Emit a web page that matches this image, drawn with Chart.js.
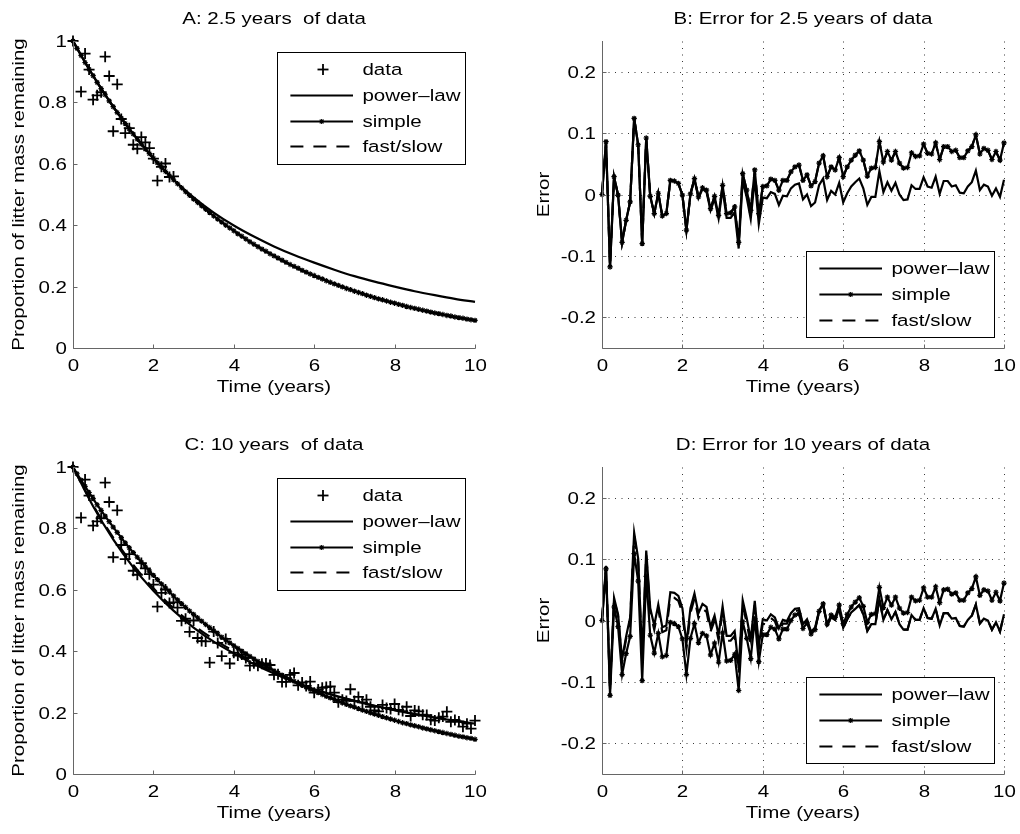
<!DOCTYPE html>
<html>
<head>
<meta charset="utf-8">
<script src="https://cdn.jsdelivr.net/npm/chart.js@4.4.1/dist/chart.umd.min.js"></script>
<style>
html,body{margin:0;padding:0;background:#fff;width:1020px;height:834px;overflow:hidden;position:relative}
canvas{position:absolute}
#cA{left:0;top:0}#cB{left:529px;top:0}#cC{left:0;top:426px}#cD{left:529px;top:426px}
</style>
</head>
<body>
<canvas id="cA" width="500" height="408"></canvas>
<canvas id="cB" width="500" height="408"></canvas>
<canvas id="cC" width="500" height="408"></canvas>
<canvas id="cD" width="500" height="408"></canvas>
<script>
// ---------------- data ----------------
const time = [0,0.1,0.2,0.3,0.4,0.5,0.6,0.7,0.8,0.9,1,1.1,1.2,1.3,1.4,1.5,1.6,1.7,1.8,1.9,2,2.1,2.2,2.3,2.4,2.5,2.6,2.7,2.8,2.9,3,3.1,3.2,3.3,3.4,3.5,3.6,3.7,3.8,3.9,4,4.1,4.2,4.3,4.4,4.5,4.6,4.7,4.8,4.9,5,5.1,5.2,5.3,5.4,5.5,5.6,5.7,5.8,5.9,6,6.1,6.2,6.3,6.4,6.5,6.6,6.7,6.8,6.9,7,7.1,7.2,7.3,7.4,7.5,7.6,7.7,7.8,7.9,8,8.1,8.2,8.3,8.4,8.5,8.6,8.7,8.8,8.9,9,9.1,9.2,9.3,9.4,9.5,9.6,9.7,9.8,9.9,10];
const tFit = [0,0.5,1,1.5,2,2.5,3,3.5,4,4.5,5,5.5,6,6.5,7,7.5,8,8.5,9,9.5,10];

const dataMass = [1.000,1.062,0.835,0.959,0.907,0.809,0.823,0.833,0.949,0.886,
 0.706,0.859,0.746,0.700,0.716,0.662,0.649,0.687,0.670,0.651,
 0.617,0.545,0.590,0.601,0.557,0.559,0.542,0.499,0.506,0.463,
 0.500,0.443,0.433,0.432,0.363,0.464,0.427,0.384,0.440,0.360,
 0.395,0.386,0.389,0.378,0.353,0.361,0.353,0.359,0.360,0.355,
 0.323,0.325,0.300,0.300,0.323,0.329,0.289,0.298,0.287,0.301,
 0.265,0.275,0.281,0.283,0.285,0.265,0.234,0.242,0.238,0.276,
 0.238,0.251,0.233,0.242,0.219,0.207,0.204,0.225,0.215,0.212,
 0.228,0.209,0.205,0.219,0.189,0.207,0.204,0.193,0.192,0.177,
 0.174,0.183,0.187,0.203,0.170,0.176,0.171,0.154,0.164,0.148,
 0.174];

const fitA_simple = [1.000,0.976,0.953,0.930,0.908,0.887,0.865,0.845,0.825,0.805,
 0.786,0.767,0.749,0.731,0.714,0.697,0.680,0.664,0.648,0.633,
 0.618,0.603,0.589,0.575,0.561,0.548,0.535,0.522,0.509,0.497,
 0.485,0.474,0.463,0.452,0.441,0.430,0.420,0.410,0.400,0.391,
 0.382,0.372,0.364,0.355,0.346,0.338,0.330,0.322,0.315,0.307,
 0.300,0.293,0.286,0.279,0.272,0.266,0.260,0.253,0.247,0.241,
 0.236,0.230,0.225,0.219,0.214,0.209,0.204,0.199,0.194,0.190,
 0.185,0.181,0.177,0.172,0.168,0.164,0.160,0.157,0.153,0.149,
 0.146,0.142,0.139,0.135,0.132,0.129,0.126,0.123,0.120,0.117,
 0.114,0.112,0.109,0.106,0.104,0.101,0.099,0.097,0.094,0.092,
 0.090];
const fitA_power = [1,0.887,0.786,0.697,0.618,0.549,0.491,0.441,0.399,0.363,0.331,0.303,0.278,0.255,0.234,0.216,0.200,0.185,0.172,0.160,0.150];
const fitA_fastslow = [1,0.887,0.786,0.697,0.618,0.548,0.485,0.430,0.382,0.338,0.300,0.266,0.236,0.209,0.185,0.164,0.146,0.129,0.114,0.101,0.090];

const fitC_simple = [1.000,0.978,0.957,0.937,0.917,0.897,0.877,0.859,0.840,0.822,
 0.804,0.787,0.770,0.753,0.737,0.721,0.706,0.690,0.675,0.661,
 0.647,0.633,0.619,0.606,0.593,0.580,0.567,0.555,0.543,0.531,
 0.520,0.509,0.498,0.487,0.477,0.466,0.456,0.446,0.437,0.427,
 0.418,0.409,0.400,0.392,0.383,0.375,0.367,0.359,0.351,0.344,
 0.336,0.329,0.322,0.315,0.308,0.302,0.295,0.289,0.283,0.276,
 0.270,0.265,0.259,0.253,0.248,0.243,0.237,0.232,0.227,0.222,
 0.218,0.213,0.208,0.204,0.199,0.195,0.191,0.187,0.183,0.179,
 0.175,0.171,0.167,0.164,0.160,0.157,0.154,0.150,0.147,0.144,
 0.141,0.138,0.135,0.132,0.129,0.126,0.123,0.121,0.118,0.116,
 0.113];
const fitC_power = [1,0.872,0.764,0.673,0.597,0.532,0.477,0.431,0.393,0.358,0.327,0.300,0.276,0.256,0.238,0.222,0.208,0.195,0.184,0.173,0.164];
const fitC_fastslow = [1,0.876,0.770,0.681,0.605,0.540,0.485,0.439,0.400,0.364,0.330,0.301,0.276,0.256,0.238,0.222,0.208,0.195,0.184,0.173,0.164];

const errB_simple = [0.000,0.086,-0.118,0.029,-0.001,-0.078,-0.042,-0.012,0.124,0.081,
 -0.080,0.092,-0.003,-0.031,0.002,-0.035,-0.031,0.023,0.022,0.018,
 -0.001,-0.058,0.001,0.026,-0.004,0.011,0.007,-0.023,-0.003,-0.034,
 0.015,-0.031,-0.030,-0.020,-0.078,0.034,0.007,-0.026,0.040,-0.031,
 0.013,0.014,0.025,0.023,0.007,0.023,0.023,0.037,0.045,0.048,
 0.023,0.032,0.014,0.021,0.051,0.063,0.029,0.045,0.040,0.060,
 0.029,0.045,0.056,0.064,0.071,0.056,0.030,0.043,0.044,0.086,
 0.053,0.070,0.056,0.070,0.051,0.043,0.044,0.068,0.062,0.063,
 0.082,0.067,0.066,0.084,0.057,0.078,0.078,0.070,0.072,0.060,
 0.060,0.071,0.078,0.097,0.066,0.075,0.072,0.057,0.070,0.056,
 0.084];
const errB_power = [0.000,0.086,-0.118,0.029,-0.001,-0.078,-0.042,-0.012,0.124,0.081,
 -0.080,0.092,-0.003,-0.031,0.002,-0.035,-0.031,0.023,0.022,0.018,
 -0.001,-0.059,0.000,0.025,-0.006,0.009,0.004,-0.026,-0.007,-0.039,
 0.009,-0.038,-0.038,-0.029,-0.088,0.023,-0.005,-0.040,0.025,-0.048,
 -0.005,-0.006,0.004,0.001,-0.017,-0.002,-0.003,0.010,0.016,0.018,
 -0.008,0.000,-0.019,-0.013,0.015,0.026,-0.009,0.006,0.000,0.019,
 -0.013,0.002,0.013,0.020,0.026,0.010,-0.017,-0.004,-0.004,0.038,
 0.004,0.020,0.006,0.019,0.000,-0.009,-0.008,0.015,0.009,0.009,
 0.028,0.013,0.011,0.029,0.001,0.022,0.022,0.013,0.015,0.003,
 0.002,0.013,0.020,0.039,0.007,0.016,0.013,-0.002,0.010,-0.004,
 0.024];
const errB_fastslow = [0.000,0.086,-0.118,0.029,-0.001,-0.078,-0.042,-0.012,0.124,0.081,
 -0.080,0.092,-0.003,-0.031,0.002,-0.035,-0.031,0.023,0.022,0.018,
 -0.001,-0.058,0.001,0.026,-0.004,0.011,0.007,-0.023,-0.003,-0.034,
 0.015,-0.031,-0.030,-0.020,-0.078,0.034,0.007,-0.026,0.040,-0.031,
 0.013,0.014,0.025,0.023,0.007,0.023,0.023,0.037,0.045,0.048,
 0.023,0.032,0.014,0.021,0.051,0.063,0.029,0.045,0.040,0.060,
 0.029,0.045,0.056,0.064,0.071,0.056,0.030,0.043,0.044,0.086,
 0.053,0.070,0.056,0.070,0.051,0.043,0.044,0.068,0.062,0.063,
 0.082,0.067,0.066,0.084,0.057,0.078,0.078,0.070,0.072,0.060,
 0.060,0.071,0.078,0.097,0.066,0.075,0.072,0.057,0.070,0.056,
 0.084];

const errD_simple = [0.000,0.084,-0.122,0.022,-0.010,-0.088,-0.054,-0.026,0.109,0.064,
 -0.098,0.072,-0.024,-0.053,-0.021,-0.059,-0.057,-0.003,-0.005,-0.010,
 -0.030,-0.088,-0.029,-0.005,-0.036,-0.021,-0.025,-0.056,-0.037,-0.068,
 -0.020,-0.066,-0.065,-0.055,-0.114,-0.002,-0.029,-0.062,0.003,-0.067,
 -0.023,-0.023,-0.011,-0.014,-0.030,-0.014,-0.014,0.000,0.009,0.011,
 -0.013,-0.004,-0.022,-0.015,0.015,0.027,-0.006,0.009,0.005,0.025,
 -0.005,0.010,0.022,0.030,0.037,0.023,-0.003,0.010,0.011,0.054,
 0.021,0.038,0.025,0.038,0.020,0.012,0.013,0.038,0.032,0.033,
 0.053,0.038,0.038,0.055,0.029,0.050,0.051,0.043,0.045,0.033,
 0.033,0.045,0.052,0.071,0.041,0.050,0.048,0.033,0.046,0.032,
 0.061];
const errD_power = [0.000,0.089,-0.112,0.037,0.010,-0.063,-0.026,0.005,0.143,0.101,
 -0.058,0.114,0.020,-0.008,0.026,-0.011,-0.008,0.046,0.045,0.040,
 0.020,-0.038,0.020,0.044,0.012,0.027,0.022,-0.010,0.008,-0.024,
 0.023,-0.025,-0.025,-0.017,-0.077,0.033,0.004,-0.031,0.032,-0.040,
 0.002,0.000,0.010,0.005,-0.013,0.001,-0.001,0.012,0.019,0.020,
 -0.006,0.002,-0.018,-0.012,0.016,0.027,-0.007,0.006,0.001,0.019,
 -0.012,0.002,0.013,0.019,0.025,0.010,-0.017,-0.006,-0.006,0.035,
 0.001,0.017,0.002,0.014,-0.006,-0.015,-0.015,0.009,0.001,0.001,
 0.020,0.004,0.003,0.019,-0.008,0.012,0.012,0.003,0.004,-0.009,
 -0.010,0.001,0.008,0.026,-0.005,0.003,0.000,-0.015,-0.003,-0.018,
 0.010];
const errD_fastslow = [0.000,0.088,-0.114,0.035,0.007,-0.067,-0.030,0.000,0.138,0.095,
 -0.064,0.107,0.013,-0.015,0.019,-0.019,-0.016,0.038,0.037,0.032,
 0.012,-0.046,0.012,0.036,0.004,0.019,0.014,-0.018,0.000,-0.032,
 0.015,-0.033,-0.033,-0.025,-0.085,0.025,-0.004,-0.039,0.025,-0.047,
 -0.005,-0.007,0.004,-0.001,-0.019,-0.005,-0.005,0.008,0.015,0.017,
 -0.009,-0.001,-0.020,-0.014,0.014,0.026,-0.008,0.005,0.001,0.019,
 -0.012,0.002,0.013,0.019,0.025,0.010,-0.017,-0.006,-0.006,0.035,
 0.001,0.017,0.002,0.014,-0.006,-0.015,-0.015,0.009,0.001,0.001,
 0.020,0.004,0.003,0.019,-0.008,0.012,0.012,0.003,0.004,-0.009,
 -0.010,0.001,0.008,0.026,-0.005,0.003,0.000,-0.015,-0.003,-0.018,
 0.010];

const xTickValues = [0,2,4,6,8,10];
const massTickValues = [0,0.2,0.4,0.6,0.8,1];
const errTickValues = [-0.2,-0.1,0,0.1,0.2];
const dataCountA = 26; // 2.5 years of data

// ---------------- drawing helpers ----------------
const FPX = 16.3, SX = 1.26, FAM = '"Liberation Sans", Arial, Helvetica, sans-serif';
const MID = 0.358 * FPX;
const AXIS_COLOR = '#666';
function fmt(v){ const r = Math.round(v*10)/10; return String(r === 0 ? 0 : r); }
function txt(ctx, s, x, y, align){
  ctx.save(); ctx.font = FPX + 'px ' + FAM; ctx.fillStyle = '#000';
  ctx.textAlign = align; ctx.textBaseline = 'alphabetic';
  ctx.translate(x, y); ctx.scale(SX, 1); ctx.fillText(s, 0, 0); ctx.restore();
}
function vtxt(ctx, s, x, y){
  ctx.save(); ctx.font = FPX + 'px ' + FAM; ctx.fillStyle = '#000';
  ctx.textAlign = 'center'; ctx.textBaseline = 'alphabetic';
  ctx.translate(x, y); ctx.rotate(-Math.PI/2); ctx.scale(SX, 1); ctx.fillText(s, 0, MID); ctx.restore();
}
function seg(ctx, x0, y0, x1, y1){ ctx.beginPath(); ctx.moveTo(x0, y0); ctx.lineTo(x1, y1); ctx.stroke(); }
function star(ctx, x, y, r){
  seg(ctx, x-r, y, x+r, y); seg(ctx, x, y-r, x, y+r);
  const d = r*0.75; seg(ctx, x-d, y-d, x+d, y+d); seg(ctx, x-d, y+d, x+d, y-d);
}
function drawLegend(ctx, a, items, anchor){
  const w = 188, rowH = 25.7, pad = 17.3;
  const h = pad*2 + rowH*(items.length-1);
  const left = Math.round(a.right - 10 - w);
  const top = Math.round(anchor === 'top' ? a.top + 10.7 : a.bottom - 10.7 - h);
  ctx.save();
  ctx.fillStyle = '#fff'; ctx.fillRect(left, top, w, Math.round(h));
  ctx.strokeStyle = '#000'; ctx.lineWidth = 1; ctx.setLineDash([]);
  ctx.strokeRect(left + 0.5, top + 0.5, w, Math.round(h));
  items.forEach((it, i) => {
    const y = Math.round(top + pad + i*rowH) + 0.5;
    const x0 = left + 13.4, x1 = left + 76;
    ctx.strokeStyle = '#000'; ctx.lineWidth = 2.2; ctx.setLineDash([]);
    if (it.kind === 'plus') { ctx.lineWidth = 1.8; const cx = left + 46; seg(ctx, cx-5.5, y, cx+5.5, y); seg(ctx, cx, y-5.5, cx, y+5.5); }
    else if (it.kind === 'solid') { seg(ctx, x0, y, x1, y); }
    else if (it.kind === 'marker') { seg(ctx, x0, y, x1, y); ctx.lineWidth = 1.2; star(ctx, (x0+x1)/2, y, 2.6); }
    else if (it.kind === 'dash') { ctx.setLineDash([13, 10]); seg(ctx, x0, y, x1, y); ctx.setLineDash([]); }
    txt(ctx, it.label, left + 85.4, y + MID - 0.5, 'left');
  });
  ctx.restore();
}

const panelDeco = {
  id: 'panelDeco',
  beforeDatasetsDraw(chart, _args, o){
    if (!o.grid) return;
    const ctx = chart.ctx, a = chart.chartArea, xs = chart.scales.x, ys = chart.scales.y;
    ctx.save(); ctx.strokeStyle = '#3a3a3a'; ctx.lineWidth = 1; ctx.setLineDash([1, 5.5]);
    xs.ticks.forEach(t => { if (t.value === xs.min) return; const p = Math.round(xs.getPixelForValue(t.value)) + 0.5; seg(ctx, p, a.bottom, p, a.top); });
    ys.ticks.forEach(t => { const p = Math.round(ys.getPixelForValue(t.value)) + 0.5; seg(ctx, a.left, p, a.right, p); });
    ctx.restore();
  },
  afterDatasetsDraw(chart, _args, o){
    const ctx = chart.ctx, a = chart.chartArea, xs = chart.scales.x, ys = chart.scales.y;
    ctx.save();
    ctx.strokeStyle = AXIS_COLOR; ctx.lineWidth = 1; ctx.setLineDash([]);
    const L = Math.round(a.left) + 0.5, B = Math.round(a.bottom) + 0.5;
    seg(ctx, L, a.top, L, B); seg(ctx, L, B, a.right + 0.5, B);
    xs.ticks.forEach(t => { const p = Math.round(xs.getPixelForValue(t.value)) + 0.5; seg(ctx, p, B, p, B - 4);
      txt(ctx, fmt(t.value), p, a.bottom + 22.8, 'center'); });
    ys.ticks.forEach(t => { const p = Math.round(ys.getPixelForValue(t.value)) + 0.5; seg(ctx, L, p, L + 4, p);
      txt(ctx, fmt(t.value), a.left - 6, p + MID, 'right'); });
    const cx = (a.left + a.right)/2;
    txt(ctx, o.title, cx, a.top - 17.2, 'center');
    txt(ctx, 'Time (years)', cx, a.bottom + 44, 'center');
    vtxt(ctx, o.ylabel, o.ylabelX, (a.top + a.bottom)/2);
    drawLegend(ctx, a, o.legend, o.legendAnchor);
    ctx.restore();
  }
};

const pts = (xs, ys) => xs.map((x, i) => ({x: x, y: ys[i]}));
const lineBase = {borderColor:'#000', backgroundColor:'#000', borderWidth:2.2, pointRadius:0, tension:0, fill:false, clip:8};
const markerLine = Object.assign({}, lineBase, {pointStyle:'star', pointRadius:2.7, pointBorderWidth:1.2, pointBorderColor:'#000', pointBackgroundColor:'#000'});
const dashLine = Object.assign({}, lineBase, {borderDash:[13,10]});
const plusPts = {showLine:false, borderColor:'#000', backgroundColor:'#000', pointStyle:'cross', pointRadius:5.5, pointBorderWidth:1.8, clip:8};

const legendFit = [{label:'data', kind:'plus'},{label:'power–law', kind:'solid'},{label:'simple', kind:'marker'},{label:'fast/slow', kind:'dash'}];
const legendErr = [{label:'power–law', kind:'solid'},{label:'simple', kind:'marker'},{label:'fast/slow', kind:'dash'}];

function makeChart(id, datasets, yMin, yMax, yTickVals, deco){
  return new Chart(document.getElementById(id), {
    type: 'line',
    data: { datasets: datasets },
    options: {
      responsive:false, animation:false, devicePixelRatio:1, events:[],
      layout:{padding:{top:41, right:25, left:0, bottom:0}},
      plugins:{legend:{display:false}, tooltip:{enabled:false}, panelDeco: deco},
      scales:{
        x:{type:'linear', min:0, max:10,
           afterBuildTicks: s => { s.ticks = xTickValues.map(v => ({value:v})); },
           afterFit: s => { s.height = 60; },
           ticks:{display:false}, grid:{display:false, drawTicks:false}, border:{display:false}},
        y:{type:'linear', min:yMin, max:yMax,
           afterBuildTicks: s => { s.ticks = yTickVals.map(v => ({value:v})); },
           afterFit: s => { s.width = 73; },
           ticks:{display:false}, grid:{display:false, drawTicks:false}, border:{display:false}}
      }
    },
    plugins:[panelDeco]
  });
}

makeChart('cA', [
  Object.assign({label:'fast/slow', data: pts(tFit, fitA_fastslow), cubicInterpolationMode:'monotone'}, dashLine),
  Object.assign({label:'simple', data: pts(time, fitA_simple)}, markerLine),
  Object.assign({label:'power-law', data: pts(tFit, fitA_power), cubicInterpolationMode:'monotone'}, lineBase),
  Object.assign({label:'data', data: pts(time.slice(0, dataCountA), dataMass.slice(0, dataCountA))}, plusPts)
], 0, 1, massTickValues, {title:'A: 2.5 years  of data', ylabel:'Proportion of litter mass remaining', ylabelX:18, grid:false, legend:legendFit, legendAnchor:'top'});

makeChart('cB', [
  Object.assign({label:'fast/slow', data: pts(time, errB_fastslow)}, dashLine),
  Object.assign({label:'simple', data: pts(time, errB_simple)}, markerLine),
  Object.assign({label:'power-law', data: pts(time, errB_power)}, lineBase)
], -0.25, 0.25, errTickValues, {title:'B: Error for 2.5 years of data', ylabel:'Error', ylabelX:14, grid:true, legend:legendErr, legendAnchor:'bottom'});

makeChart('cC', [
  Object.assign({label:'fast/slow', data: pts(tFit, fitC_fastslow), cubicInterpolationMode:'monotone'}, dashLine),
  Object.assign({label:'simple', data: pts(time, fitC_simple)}, markerLine),
  Object.assign({label:'power-law', data: pts(tFit, fitC_power), cubicInterpolationMode:'monotone'}, lineBase),
  Object.assign({label:'data', data: pts(time, dataMass)}, plusPts)
], 0, 1, massTickValues, {title:'C: 10 years  of data', ylabel:'Proportion of litter mass remaining', ylabelX:18, grid:false, legend:legendFit, legendAnchor:'top'});

makeChart('cD', [
  Object.assign({label:'fast/slow', data: pts(time, errD_fastslow)}, dashLine),
  Object.assign({label:'simple', data: pts(time, errD_simple)}, markerLine),
  Object.assign({label:'power-law', data: pts(time, errD_power)}, lineBase)
], -0.25, 0.25, errTickValues, {title:'D: Error for 10 years of data', ylabel:'Error', ylabelX:14, grid:true, legend:legendErr, legendAnchor:'bottom'});
</script>
</body>
</html>
